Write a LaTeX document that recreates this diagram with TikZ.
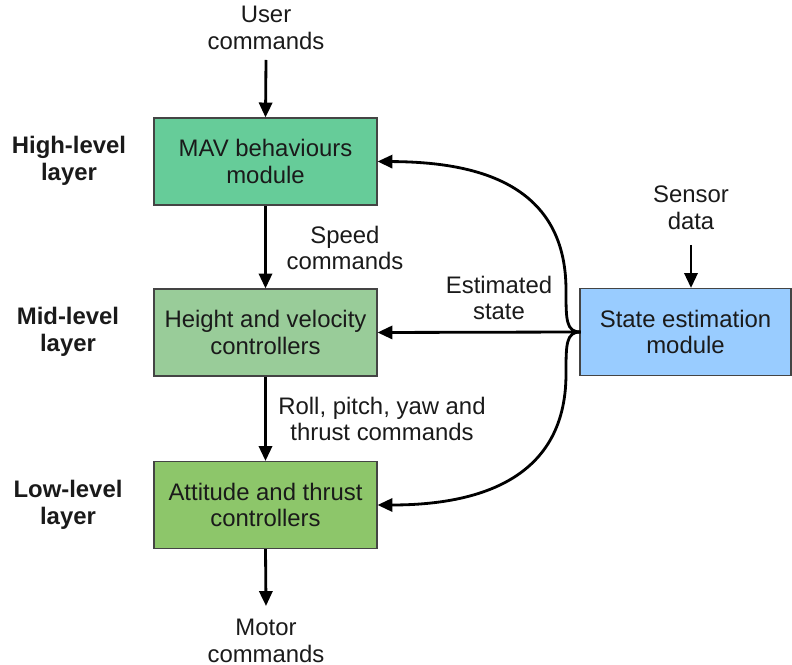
\documentclass[tikz,border=0pt]{standalone}
\usepackage{fontspec}
\setmainfont{Liberation Sans}
\usetikzlibrary{arrows.meta}
\definecolor{mavfill}{HTML}{66CC99}
\definecolor{hvcfill}{HTML}{99CC99}
\definecolor{atcfill}{HTML}{8DC66A}
\definecolor{semfill}{HTML}{99CCFF}
\definecolor{boxline}{HTML}{444444}
\definecolor{txtcol}{HTML}{1A1A1A}
\begin{document}
\begin{tikzpicture}[x=0.02cm, y=-0.02cm,
    font=\fontsize{13.6}{15.3}\selectfont, text=txtcol,
    block/.style={draw=boxline, line width=0.6pt, minimum width=223*0.02cm,
        minimum height=87*0.02cm, align=center, inner sep=0pt},
    txt/.style={align=center, inner sep=0pt},
    layer/.style={align=center, inner sep=0pt, font=\fontsize{13.6}{15.3}\selectfont\bfseries},
    flow/.style={ultra thick, -{Triangle[length=8.5pt, width=7.5pt]}}]
    \useasboundingbox (0,0) rectangle (792,665);
    \node [block, fill=mavfill] (mav) at (265.5,161.5) {MAV behaviours\\module};
    \node [block, fill=hvcfill] (hvc) at (265.5,332.5) {Height and velocity\\controllers};
    \node [block, fill=atcfill] (atc) at (265.5,505) {Attitude and thrust\\controllers};
    \node [block, fill=semfill, minimum width=211*0.02cm] (sem) at (685.5,332) {State estimation\\module};
    \node [txt] (user) at (266,28) {User\\commands};
    \node [txt] (motor) at (266,641) {Motor\\commands};
    \node [txt] (sensor) at (691,208) {Sensor\\data};
    \node [txt] (speed) at (345,248) {Speed\\commands};
    \node [txt] (rpy) at (382,419) {Roll, pitch, yaw and\\thrust commands};
    \node [txt] (est) at (499,298) {Estimated\\state};
    \node [layer] (high) at (69,161) {High-level\\layer};
    \node [layer] (mid) at (68,332) {Mid-level\\layer};
    \node [layer] (low) at (68,505) {Low-level\\layer};
    \coordinate (userin) at (266,60);
    \coordinate (sensorin) at (691,245);
    \coordinate (motorout) at (266,606);
    \coordinate (fork) at (580.5,332);
    \draw [flow] (userin) -- (mav.north);
    \draw [flow] (sensorin) -- (sem.north -| sensorin);
    \draw [flow] (mav.south) -- (hvc.north);
    \draw [flow] (hvc.south) -- (atc.north);
    \draw [flow] (atc.south) -- (motorout);
    \draw [flow] (fork) -- (hvc.east);
    \draw [flow] (fork) .. controls (566,332) and (566,320) .. (566,290)
        .. controls (566,180) and (470,162) .. (mav.east);
    \draw [flow] (fork) .. controls (566,332) and (566,344) .. (566,374)
        .. controls (566,484) and (470,505) .. (atc.east);
\end{tikzpicture}
\end{document}
